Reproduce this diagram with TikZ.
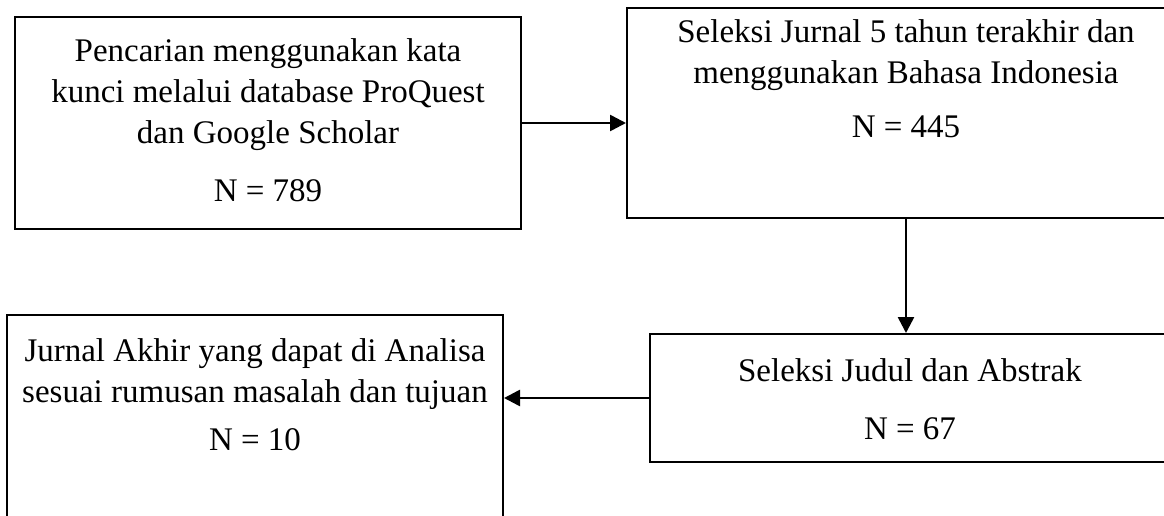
\documentclass[tikz,border=0pt]{standalone}
\usepackage{fontspec}
\setmainfont{Liberation Serif}
\usetikzlibrary{arrows.meta,positioning}

\begin{document}
\begin{tikzpicture}[x=0.5pt, y=-0.5pt,
    box/.style={draw, line width=1pt, inner sep=0pt},
    txt/.style={align=center, inner sep=0pt, font=\fontsize{16.5pt}{20.5pt}\selectfont},
    flow/.style={line width=1.3pt, -{Triangle[length=8pt, width=8pt]}}]
    \clip (0,0) rectangle (1164,515);
    \node[box, minimum width=253pt, minimum height=106pt] (search) at (268,123) {};
    \node[box, minimum width=279pt, minimum height=105pt] (years) at (906,113) {};
    \node[box, minimum width=260pt, minimum height=64pt] (abstract) at (910,398) {};
    \node[box, minimum width=248pt, minimum height=122pt] (final) at (255,437) {};
    \node[txt, below=11pt of search.north] (searchtxt) {Pencarian menggunakan kata\\kunci melalui database ProQuest\\dan Google Scholar\\[8.5pt]N = 789};
    \node[txt, below=6pt of years.north] (yearstxt) {Seleksi Jurnal 5 tahun terakhir dan\\menggunakan Bahasa Indonesia\\[6.5pt]N = 445};
    \node[txt, below=12.5pt of abstract.north] (abstracttxt) {Seleksi Judul dan Abstrak\\[8.5pt]N = 67};
    \node[txt, below=12pt of final.north] (finaltxt) {Jurnal Akhir yang dapat di Analisa\\sesuai rumusan masalah dan tujuan\\[3.5pt]N = 10};
    \draw[flow] (search.east) -- (search.east -| years.west);
    \draw[flow] (years.south) -- (years.south |- abstract.north);
    \draw[flow] (abstract.west) -- (abstract.west -| final.east);
\end{tikzpicture}
\end{document}
